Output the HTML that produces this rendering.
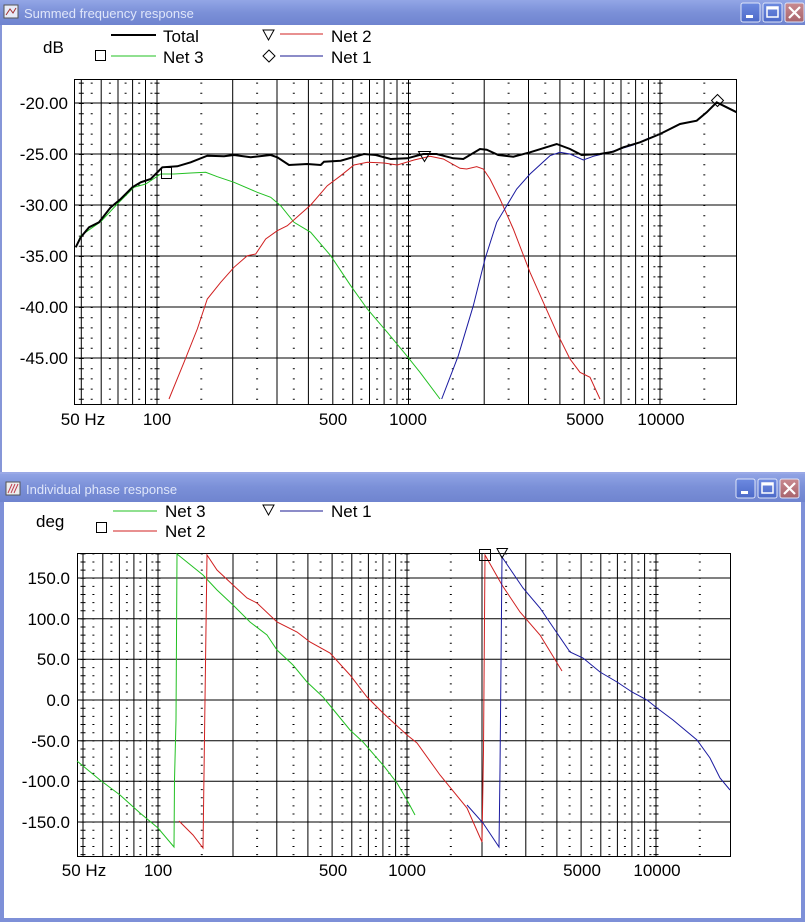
<!DOCTYPE html>
<html><head><meta charset="utf-8"><style>
html,body{margin:0;padding:0;background:#fff;width:805px;height:922px;overflow:hidden}
svg{display:block}
text{font-family:"Liberation Sans",Arial,sans-serif}
</style></head><body>
<svg width="805" height="922" viewBox="0 0 805 922" xmlns="http://www.w3.org/2000/svg">
<defs>
<linearGradient id="tb" x1="0" y1="0" x2="0" y2="1">
<stop offset="0" stop-color="#93a6e6"/><stop offset="0.5" stop-color="#7b90d8"/><stop offset="1" stop-color="#6f84cf"/>
</linearGradient>
<linearGradient id="btn" x1="0" y1="0" x2="0" y2="1"><stop offset="0" stop-color="#6d8ae0"/><stop offset="1" stop-color="#4c69c8"/></linearGradient>
<linearGradient id="btnx" x1="0" y1="0" x2="0" y2="1"><stop offset="0" stop-color="#c98a90"/><stop offset="1" stop-color="#a8646c"/></linearGradient>
</defs>
<rect width="805" height="922" fill="#fff"/>
<!-- top window -->
<rect x="0" y="0" width="805" height="25" fill="url(#tb)"/>
<rect x="0" y="25" width="2" height="447" fill="#8696d8"/>
<rect x="4" y="5" width="14" height="13" fill="#e8ecf8" stroke="#555" stroke-width="1"/>
<path d="M6 15 L10 9 L13 13 L16 8" stroke="#a03030" fill="none"/>
<text x="24" y="18" font-size="13" fill="#dfe6fa">Summed frequency response</text>
<g>
<rect x="741" y="3" width="19" height="19" rx="2" fill="url(#btn)" stroke="#dde4f8"/>
<rect x="746" y="15" width="7" height="3" fill="#fff"/>
<rect x="763" y="3" width="19" height="19" rx="2" fill="url(#btn)" stroke="#dde4f8"/>
<rect x="767" y="7" width="11" height="10" fill="none" stroke="#fff" stroke-width="1.5"/><rect x="767" y="7" width="11" height="2.5" fill="#fff"/>
<rect x="785" y="3" width="19" height="19" rx="2" fill="url(#btnx)" stroke="#dde4f8"/>
<path d="M789 7 L800 18 M800 7 L789 18" stroke="#fff" stroke-width="2.2"/>
</g>
<!-- top legend -->
<text x="43" y="53" font-size="17">dB</text>
<line x1="111" y1="35" x2="156" y2="35" stroke="#000" stroke-width="2"/>
<text x="163" y="42" font-size="17">Total</text>
<rect x="95.5" y="50.5" width="10" height="10" fill="none" stroke="#000"/>
<line x1="111" y1="56" x2="156" y2="56" stroke="#22c022" stroke-width="1"/>
<text x="163" y="63" font-size="17">Net 3</text>
<path d="M263 30 L274 30 L268.5 40 Z" fill="none" stroke="#000"/>
<line x1="280" y1="34" x2="323" y2="34" stroke="#d02020" stroke-width="1"/>
<text x="331" y="42" font-size="17">Net 2</text>
<path d="M269 50 L275 56 L269 62 L263 56 Z" fill="none" stroke="#000"/>
<line x1="280" y1="56" x2="323" y2="56" stroke="#1a1a90" stroke-width="1"/>
<text x="331" y="63" font-size="17">Net 1</text>
<!-- top grid -->
<g stroke="#000" fill="none">
<path stroke-width="1" d="M101.2 79V404M118 79V404M132.6 79V404M145.5 79V404M232.7 79V404M277 79V404M308.4 79V404M332.8 79V404M352.7 79V404M369.5 79V404M384.1 79V404M397 79V404M484.2 79V404M528.5 79V404M559.9 79V404M584.3 79V404M604.2 79V404M621 79V404M635.6 79V404M648.5 79V404M81.3 79V404M157 79V404M408.5 79V404M660 79V404"/>
<path stroke-width="5" stroke-dasharray="1 9.2" stroke-dashoffset="6.6" d="M81.3 79V404M157 79V404M408.5 79V404M660 79V404"/>
<path stroke-width="2" stroke-dasharray="1 9.2" stroke-dashoffset="6.6" d="M91.7 79V404M109.9 79V404M125.6 79V404M139.2 79V404M151.4 79V404M201.3 79V404M257.1 79V404M293.8 79V404M321.3 79V404M343.2 79V404M361.4 79V404M377.1 79V404M390.7 79V404M402.9 79V404M452.8 79V404M508.6 79V404M545.3 79V404M572.8 79V404M594.7 79V404M612.9 79V404M628.6 79V404M642.2 79V404M654.4 79V404M704.3 79V404"/>
<path stroke-width="1" d="M74 103H737M74 154H737M74 205H737M74 256H737M74 307H737M74 358H737"/>
<rect x="74.5" y="79.5" width="662" height="325" stroke-width="1"/>
</g>
<!-- top curves -->
<polyline fill="none" stroke="#22c022" stroke-width="1" points="75.7,247.3 80.7,235.7 100.7,221.7 117.3,204 134,187.3 145.7,184 160.7,174 174,174 190.7,173 205.7,172.3 217.3,176.7 234,182.3 257.3,192.3 270.7,197.3 280.7,205.7 294,222.3 310.7,232.3 330.7,255.7 350.7,285.7 367.3,309 387.3,332.3 406.7,355.7 420,372.3 440,399"/>
<polyline fill="none" stroke="#d02020" stroke-width="1" points="169,399 184,362.3 197.3,329 207.3,299 220.7,282.3 234,267.3 247.3,255.7 255.7,254 265.7,239 277.3,230.7 287.3,225.7 310.7,205 327.3,185.7 340.7,175.7 354,165 367.3,162.3 384,163 397.3,165 414,160 430,156.3 443.3,159 460,168.3 466.7,169 476.7,166.7 483.3,169 490,179 500,199 513.3,229 530,272.3 543.3,302.3 556.7,332.3 570,359 580,372.3 590,377.3 600,399"/>
<polyline fill="none" stroke="#1a1aa0" stroke-width="1" points="441.7,399 458.3,355.7 473.3,305.7 485,259 496.7,222.3 506.7,205.7 516.7,189 530,174 550,155.7 560,152.3 570,154 583.3,160 593.3,156.3 606.7,153 620,149 633.3,145 646.7,139 660,134"/>
<polyline fill="none" stroke="#000" stroke-width="2" points="75.7,247.3 80.7,237.3 89,227.3 99,222.3 110.7,207.3 120.7,199 132.3,187.3 140.7,182.3 150.7,179 162.3,167.3 177.3,166.3 190.7,162.3 207.3,155.7 224,156.3 234,155 250.7,157.3 270.7,155 277.3,157.3 289,165 307.3,164 320.7,165 324,161.7 340.7,160.7 364,154 375.7,155 390.7,159 407.3,158.3 423.3,154 436.7,154 453.3,158.3 463.3,159 480,149 486.7,149.7 498.3,155 513.3,156.7 530,152.3 556.7,144 570,149 581.7,155 600,154 613.3,151.7 623.3,147.3 640,142.3 660,134 680,124 696.7,120.7 706.7,112.3 716.7,102.3 726.7,107.3 736.7,112.3"/>
<rect x="161.5" y="167.5" width="10" height="11" fill="none" stroke="#000"/>
<path d="M418.5 151.5 L430.5 151.5 L424.5 161.5 Z" fill="none" stroke="#000"/>
<path d="M717.5 94.5 L723.5 100.5 L717.5 106.5 L711.5 100.5 Z" fill="none" stroke="#000"/>
<!-- top labels -->
<g font-size="17" text-anchor="end">
<text x="68" y="109">-20.00</text><text x="68" y="160">-25.00</text><text x="68" y="211">-30.00</text>
<text x="68" y="262">-35.00</text><text x="68" y="313">-40.00</text><text x="68" y="364">-45.00</text>
</g>
<g font-size="17" text-anchor="middle">
<text x="83" y="425">50 Hz</text><text x="157" y="425">100</text><text x="333" y="425">500</text>
<text x="408" y="425">1000</text><text x="585" y="425">5000</text><text x="661" y="425">10000</text>
</g>
<!-- bottom window -->
<rect x="0" y="472" width="805" height="30" fill="url(#tb)"/>
<rect x="0" y="472" width="805" height="2" fill="#9aa9e6"/>
<rect x="0" y="502" width="4" height="420" fill="#7e90d8"/>
<rect x="801" y="502" width="4" height="420" fill="#7e90d8"/>
<rect x="0" y="918" width="805" height="4" fill="#7e90d8"/>
<rect x="6" y="482" width="14" height="13" fill="#eee" stroke="#555"/>
<path d="M8 493 L12 484 M11 493 L15 484 M14 493 L18 484" stroke="#c04050"/>
<text x="26" y="494" font-size="13" fill="#dfe6fa">Individual phase response</text>
<g>
<rect x="736" y="479" width="19" height="19" rx="2" fill="url(#btn)" stroke="#dde4f8"/>
<rect x="741" y="491" width="7" height="3" fill="#fff"/>
<rect x="758" y="479" width="19" height="19" rx="2" fill="url(#btn)" stroke="#dde4f8"/>
<rect x="762" y="483" width="11" height="10" fill="none" stroke="#fff" stroke-width="1.5"/><rect x="762" y="483" width="11" height="2.5" fill="#fff"/>
<rect x="780" y="479" width="19" height="19" rx="2" fill="url(#btnx)" stroke="#dde4f8"/>
<path d="M784 483 L795 494 M795 483 L784 494" stroke="#fff" stroke-width="2.2"/>
</g>
<!-- bottom legend -->
<text x="36" y="527" font-size="17">deg</text>
<line x1="113" y1="511" x2="157" y2="511" stroke="#22c022"/>
<text x="165" y="517" font-size="17">Net 3</text>
<rect x="96.5" y="522.5" width="10" height="10" fill="none" stroke="#000"/>
<line x1="113" y1="531" x2="157" y2="531" stroke="#d02020"/>
<text x="165" y="537" font-size="17">Net 2</text>
<path d="M263 505 L274 505 L268.5 515 Z" fill="none" stroke="#000"/>
<line x1="280" y1="511" x2="323" y2="511" stroke="#1a1a90"/>
<text x="331" y="517" font-size="17">Net 1</text>
<!-- bottom grid -->
<g stroke="#000" fill="none">
<path stroke-width="1" d="M102.8 553V857M119.4 553V857M133.9 553V857M146.6 553V857M233 553V857M276.8 553V857M307.9 553V857M332.1 553V857M351.8 553V857M368.4 553V857M382.9 553V857M395.6 553V857M482 553V857M525.8 553V857M556.9 553V857M581.1 553V857M600.8 553V857M617.4 553V857M631.9 553V857M644.6 553V857M83 553V857M158 553V857M407 553V857M656 553V857"/>
<path stroke-width="5" stroke-dasharray="1 7.13" stroke-dashoffset="7.8" d="M83 553V857M158 553V857M407 553V857M656 553V857"/>
<path stroke-width="2" stroke-dasharray="1 7.13" stroke-dashoffset="7.8" d="M93.4 553V857M111.4 553V857M126.9 553V857M140.4 553V857M152.4 553V857M201.8 553V857M257.1 553V857M293.5 553V857M320.6 553V857M342.4 553V857M360.4 553V857M375.9 553V857M389.4 553V857M401.4 553V857M450.8 553V857M506.1 553V857M542.5 553V857M569.6 553V857M591.4 553V857M609.4 553V857M624.9 553V857M638.4 553V857M650.4 553V857M699.8 553V857"/>
<path stroke-width="1" d="M77 578H731M77 618.7H731M77 659.3H731M77 700H731M77 740.7H731M77 781.3H731M77 822H731"/>
<rect x="77.5" y="553.5" width="653" height="303" stroke-width="1"/>
</g>
<!-- bottom curves -->
<polyline fill="none" stroke="#22c022" stroke-width="1" points="77,761 100,780 120,795 140,813 158,828 174,847 174.5,780 176,720 177,554 203,575 217,590 233,605 250,622 267,635 277,650 293,665 307,682 323,697 332,708 350,730 363,742 383,765 397,783 407,800 415,815"/>
<polyline fill="none" stroke="#d02020" stroke-width="1" points="179,821 193,835 203,848 205,700 207,555 217,570 233,585 247,598 257,603 277,622 297,632 310,642 330,653 350,675 367,697 383,713 407,735 417,743 440,775 467,808 482,842 483.5,750 485,555 502,585 520,612 540,635 562,671"/>
<polyline fill="none" stroke="#1a1aa0" stroke-width="1" points="467,805 483,823 499,847 500,770 502,557 523,588 540,608 557,633 570,652 583,658 600,672 617,682 632,692 647,700 657,708 673,720 697,740 710,758 720,778 730,790"/>
<rect x="479.5" y="549.5" width="11" height="11" fill="none" stroke="#000"/>
<path d="M497 548.5 L507.5 548.5 L502 558 Z" fill="none" stroke="#000"/>
<!-- bottom labels -->
<g font-size="17" text-anchor="end">
<text x="70" y="584">150.0</text><text x="70" y="625">100.0</text><text x="70" y="665">50.0</text>
<text x="70" y="706">0.0</text><text x="70" y="747">-50.0</text><text x="70" y="787">-100.0</text><text x="70" y="828">-150.0</text>
</g>
<g font-size="17" text-anchor="middle">
<text x="84" y="876">50 Hz</text><text x="158" y="876">100</text><text x="333" y="876">500</text>
<text x="407" y="876">1000</text><text x="582" y="876">5000</text><text x="657" y="876">10000</text>
</g>
</svg>
</body></html>
